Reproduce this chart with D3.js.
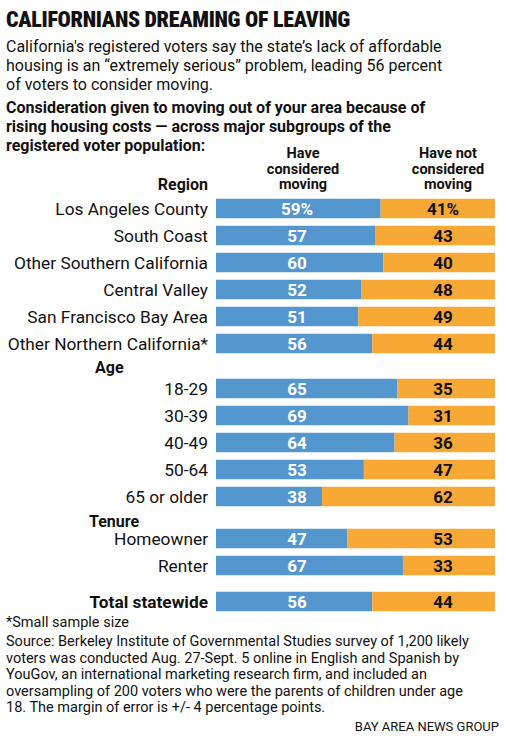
<!DOCTYPE html><html><head><meta charset="utf-8">
<script src="https://cdn.jsdelivr.net/npm/d3@7"></script>
<style>body{margin:0;background:#fff}</style></head><body><svg id="c" width="506" height="739"></svg>
<script>
const groups=["Region","Age","Tenure",""];
const categories=["Los Angeles County","South Coast","Other Southern California","Central Valley","San Francisco Bay Area","Other Northern California*","18-29","30-39","40-49","50-64","65 or older","Homeowner","Renter","Total statewide"];
const categoryGroup=[0,0,0,0,0,0,1,1,1,1,1,2,2,3];
const considered=[59,57,60,52,51,56,65,69,64,53,38,47,67,56];
const notConsidered=[41,43,40,48,49,44,35,31,36,47,62,53,33,44];
const rowY=[208.5,235.5,262.5,289.5,316.5,343.5,388.5,415.5,442.5,469.5,496.5,538.5,565.5,601.5];

const svg=d3.select("#c");
const F="Roboto, 'Liberation Sans', sans-serif";
const x=d3.scaleLinear().domain([0,100]).range([216,495]);
const t=(s,xx,y,o={})=>svg.append("text").attr("x",xx).attr("y",y).text(s)
  .attr("font-family",F).attr("font-size",o.size||16).attr("font-weight",o.w||400)
  .attr("fill",o.fill||"#111").attr("text-anchor",o.a||"start");

t("CALIFORNIANS DREAMING OF LEAVING",6,27,{size:22,w:900}).attr("font-stretch","condensed").attr("letter-spacing","-0.3");
["California's registered voters say the state’s lack of affordable","housing is an “extremely serious” problem, leading 56 percent","of voters to consider moving."].forEach((s,i)=>t(s,6,52+i*19,{size:16}));
["Consideration given to moving out of your area because of","rising housing costs — across major subgroups of the","registered voter population:"].forEach((s,i)=>t(s,6,113+i*19,{size:16,w:700}));
["Have","considered","moving"].forEach((s,i)=>t(s,303,158+i*15.5,{size:14.5,w:700,a:"middle"}));
["Have not","considered","moving"].forEach((s,i)=>t(s,448,158+i*15.5,{size:14.5,w:700,a:"middle"}));
t("Region",208,190,{w:700,a:"end"});
t("Age",95,373,{w:700});
t("Tenure",89,527,{w:700});

const h=19.5;
categories.forEach((c,i)=>{
  const y=rowY[i];
  svg.append("rect").attr("x",x(0)).attr("y",y-h/2).attr("width",x(considered[i])-x(0)).attr("height",h).attr("fill","#5496ce");
  svg.append("rect").attr("x",x(considered[i])).attr("y",y-h/2).attr("width",x(100)-x(considered[i])).attr("height",h).attr("fill","#f8a834");
  const sfx=i===0?"%":"";
  t(considered[i]+sfx,297,y+6,{size:17,w:700,fill:"#fff",a:"middle"});
  t(notConsidered[i]+sfx,443,y+6,{size:17,w:700,fill:"#111",a:"middle"});
  const isTotal=categoryGroup[i]===3;
  t(c,208,y+6,{size:17.3,w:isTotal?700:400,a:"end"});
});

t("*Small sample size",6,627,{size:14.5});
["Source: Berkeley Institute of Governmental Studies survey of 1,200 likely","voters was conducted Aug. 27-Sept. 5 online in English and Spanish by","YouGov, an international marketing research firm, and included an","oversampling of 200 voters who were the parents of children under age","18. The margin of error is +/- 4 percentage points."].forEach((s,i)=>t(s,6,646+i*16.5,{size:14.5}));
t("BAY AREA NEWS GROUP",499,731,{size:13,a:"end"});
</script></body></html>
